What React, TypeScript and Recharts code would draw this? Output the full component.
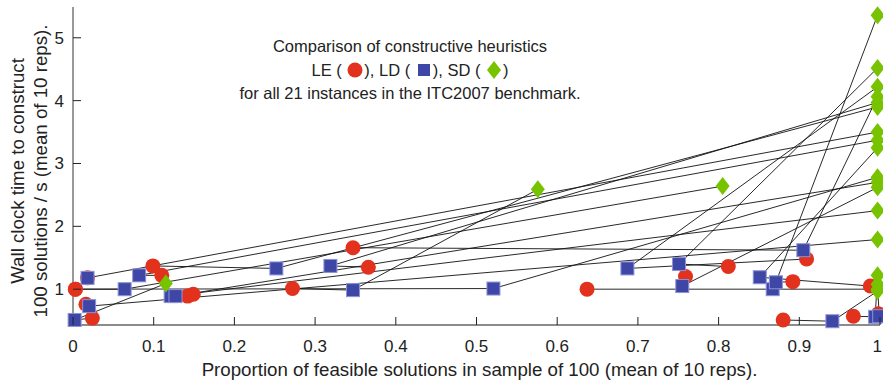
import React from 'react';
import { ScatterChart, Scatter, XAxis, YAxis, Label } from 'recharts';

// one entry per instance (21): LE, LD and SD results
const leX = [0.003, 0.018, 0.272, 0.637, 0.892, 0.88, 0.967, 0.998, 0.024, 0.016, 0.142, 0.149, 0.099, 0.11, 0.366, 0.347, 0.759, 0.812, 0.909, 0.988, 0.003];
const leY = [1.0, 1.18, 1.01, 1.0, 1.12, 0.51, 0.57, 0.61, 0.54, 0.76, 0.89, 0.92, 1.37, 1.22, 1.35, 1.66, 1.2, 1.36, 1.48, 1.05, 1.0];
const ldX = [0.521, 0.018, 0.347, 0.867, 0.871, 0.941, 0.994, 0.999, 0.002, 0.02, 0.121, 0.127, 0.252, 0.082, 0.319, 0.905, 0.755, 0.751, 0.687, 0.851, 0.064];
const ldY = [1.01, 1.18, 0.985, 1.0, 1.11, 0.49, 0.56, 0.57, 0.51, 0.73, 0.89, 0.89, 1.33, 1.22, 1.37, 1.62, 1.05, 1.4, 1.33, 1.19, 1.0];
const sdX = [0.997, 0.997, 0.576, 0.997, 0.997, 0.997, 0.997, 0.997, 0.115, 0.997, 0.997, 0.997, 0.997, 0.997, 0.997, 0.997, 0.997, 0.997, 0.997, 0.997, 0.805];
const sdY = [2.78, 3.5, 2.59, 1.0, 5.36, 0.97, 1.22, 1.08, 1.09, 1.79, 2.25, 2.7, 3.9, 3.37, 3.97, 4.06, 2.62, 4.52, 4.22, 3.25, 2.64];

const xTicks = [0, 0.1, 0.2, 0.3, 0.4, 0.5, 0.6, 0.7, 0.8, 0.9, 1];
const yTicks = [1, 2, 3, 4, 5];

const W = 883;
const H = 388;
const LEFT = 73;
const RIGHT = 880;
const TOP = 7;
const BOTTOM = 325;

const RED = '#e2311d';
const BLUE = '#3f47a6';
const GREEN = '#77c300';
const INK = '#222';
const FONT = '"Liberation Sans", Arial, Helvetica, sans-serif';

const paths = leX.map((_, i) => [
  { x: leX[i], y: leY[i] },
  { x: ldX[i], y: ldY[i] },
  { x: sdX[i], y: sdY[i] },
]);
const lePts = leX.map((x, i) => ({ x, y: leY[i] }));
const ldPts = ldX.map((x, i) => ({ x, y: ldY[i] }));
const sdPts = sdX.map((x, i) => ({ x, y: sdY[i] }));

const NoShape = () => <g />;
const Dot = ({ cx, cy }: any) => <circle cx={cx} cy={cy} r={7.5} fill={RED} />;
const Square = ({ cx, cy }: any) => (
  <rect x={cx - 6.5} y={cy - 6.5} width={13} height={13} fill={BLUE} stroke="#8d92d8" strokeWidth={1} />
);
const Diamond = ({ cx, cy }: any) => (
  <polygon points={`${cx},${cy - 9} ${cx + 7},${cy} ${cx},${cy + 9} ${cx - 7},${cy}`} fill={GREEN} />
);

const fmt = (v: number) => (v === 0 || v === 1 ? String(v) : v.toFixed(1));

const BottomTick = ({ x, payload }: any) => (
  <g>
    <line x1={x} x2={x} y1={BOTTOM} y2={BOTTOM - 8} stroke={INK} />
    {/* last label sits against the right edge of the page */}
    <text
      x={payload.value === 1 ? W - 1 : x}
      y={352}
      textAnchor={payload.value === 1 ? 'end' : 'middle'}
      fontSize={17}
      fill={INK}
      fontFamily={FONT}
    >
      {fmt(payload.value)}
    </text>
  </g>
);
const TopTick = ({ x }: any) => <line x1={x} x2={x} y1={TOP} y2={TOP + 8} stroke={INK} />;
const LeftTick = ({ y, payload }: any) => (
  <g>
    <line x1={LEFT} x2={LEFT + 8} y1={y} y2={y} stroke={INK} />
    <text x={64} y={y + 6} textAnchor="end" fontSize={17} fill={INK} fontFamily={FONT}>
      {payload.value}
    </text>
  </g>
);
const RightTick = ({ y }: any) => <line x1={RIGHT} x2={RIGHT - 8} y1={y} y2={y} stroke={INK} />;

const XTitle = () => (
  <text x={(LEFT + RIGHT) / 2 + 3} y={376} textAnchor="middle" fontSize={18.7} fill={INK} fontFamily={FONT}>
    Proportion of feasible solutions in sample of 100 (mean of 10 reps).
  </text>
);
const YTitle = () => (
  <text transform="translate(0,171) rotate(-90)" textAnchor="middle" fontSize={18.7} fill={INK} fontFamily={FONT}>
    <tspan x={0} y={24}>Wall clock time to construct</tspan>
    <tspan x={0} y={47}>100 solutions / s (mean of 10 reps).</tspan>
  </text>
);

const Sym = ({ kind }: { kind: string }) => (
  <svg width={16} height={18} style={{ verticalAlign: '-3px', margin: '0 1px' }}>
    {kind === 'c' && <circle cx={8} cy={9} r={7.5} fill={RED} />}
    {kind === 's' && <rect x={2} y={3} width={12} height={12} fill={BLUE} />}
    {kind === 'd' && <polygon points="8,0 15,9 8,18 1,9" fill={GREEN} />}
  </svg>
);

export default function App() {
  return (
    <div style={{ position: 'absolute', left: 0, top: 0, width: W, height: H, background: '#fff', fontFamily: FONT }}>
      <ScatterChart width={W} height={H} margin={{ top: TOP, right: W - RIGHT, bottom: 0, left: 0 }}>
        <XAxis
          type="number"
          dataKey="x"
          domain={[0, 1]}
          ticks={xTicks}
          interval={0}
          height={H - BOTTOM}
          tickLine={false}
          axisLine={{ stroke: '#8c8c8c', strokeWidth: 2 }}
          tick={<BottomTick />}
        >
          <Label content={<XTitle />} />
        </XAxis>
        <XAxis
          xAxisId="top"
          orientation="top"
          type="number"
          dataKey="x"
          domain={[0, 1]}
          ticks={xTicks}
          interval={0}
          height={0}
          tickLine={false}
          axisLine={{ stroke: '#333' }}
          tick={<TopTick />}
        />
        <YAxis
          type="number"
          dataKey="y"
          domain={[0.43, 5.49]}
          ticks={yTicks}
          interval={0}
          width={LEFT}
          tickLine={false}
          axisLine={{ stroke: '#333' }}
          tick={<LeftTick />}
        >
          <Label content={<YTitle />} />
        </YAxis>
        <YAxis
          yAxisId="right"
          orientation="right"
          type="number"
          dataKey="y"
          domain={[0.43, 5.49]}
          ticks={yTicks}
          interval={0}
          width={0}
          tickLine={false}
          axisLine={{ stroke: '#8c8c8c', strokeWidth: 1.5 }}
          tick={<RightTick />}
        />
        {paths.map((p, i) => (
          <Scatter
            key={i}
            data={p}
            line={{ stroke: '#111', strokeWidth: 0.9 }}
            shape={<NoShape />}
            legendType="none"
            isAnimationActive={false}
          />
        ))}
        <Scatter data={lePts} shape={<Dot />} isAnimationActive={false} />
        <Scatter data={ldPts} shape={<Square />} isAnimationActive={false} />
        <Scatter data={sdPts} shape={<Diamond />} isAnimationActive={false} />
      </ScatterChart>
      <div
        style={{
          position: 'absolute',
          left: 210,
          top: 35,
          width: 400,
          textAlign: 'center',
          fontSize: 16.5,
          lineHeight: '23.5px',
          color: INK,
        }}
      >
        <div>Comparison of constructive heuristics</div>
        <div>
          LE ( <Sym kind="c" />), LD ( <Sym kind="s" />), SD ( <Sym kind="d" />)
        </div>
        <div>for all 21 instances in the ITC2007 benchmark.</div>
      </div>
    </div>
  );
}
